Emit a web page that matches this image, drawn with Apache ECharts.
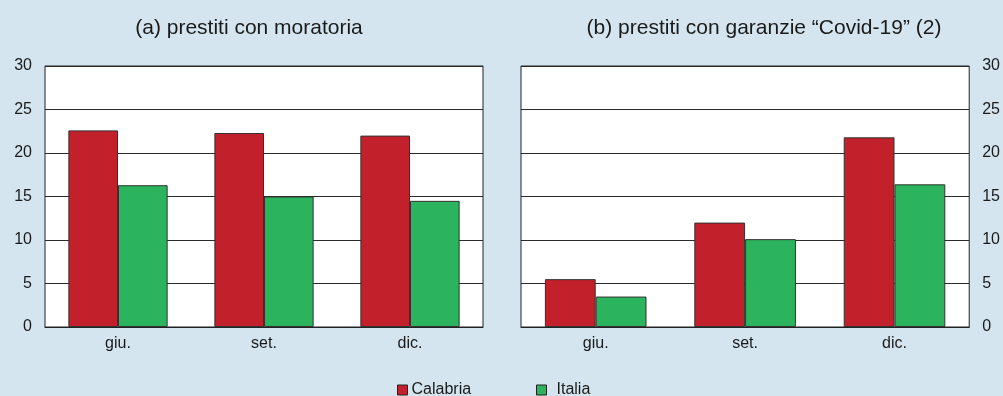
<!DOCTYPE html>
<html>
<head>
<meta charset="utf-8">
<script src="https://cdn.jsdelivr.net/npm/echarts@6/dist/echarts.min.js"></script>
<style>
  html, body { margin: 0; padding: 0; background: #d4e5ef; }
  #chart { width: 1003px; height: 396px; }
</style>
</head>
<body>
<div id="chart"></div>
<script>
// Quarters shown on both panels
const categories = ['giu.', 'set.', 'dic.'];
// Panel (a): loans under moratorium (%)
const moratoriaCalabria = [22.6, 22.3, 22.0];
const moratoriaItalia = [16.3, 15.0, 14.5];
// Panel (b): loans with "Covid-19" guarantees (%)
const garanzieCalabria = [5.5, 12.0, 21.8];
const garanzieItalia = [3.5, 10.1, 16.4];
const yTicks = { min: 0, max: 30, interval: 5 };

const RED = '#c2202a';
const GREEN = '#2bb45d';
const TEXT = '#1a1a1a';
const FONT = 'Liberation Sans, Arial, sans-serif';

function yAxis(gridIndex, position) {
  return {
    type: 'value', gridIndex, position,
    min: yTicks.min, max: yTicks.max, interval: yTicks.interval,
    axisLine: { show: false }, axisTick: { show: false },
    axisLabel: { color: TEXT, fontSize: 16, fontFamily: FONT, margin: 13 },
    splitLine: { show: true, lineStyle: { color: '#2a2a2a', width: 1 } }
  };
}
function xAxis(gridIndex) {
  return {
    type: 'category', gridIndex, data: categories,
    axisLine: { show: true, lineStyle: { color: '#222', width: 1 } },
    axisTick: { show: false },
    axisLabel: { color: TEXT, fontSize: 16, fontFamily: FONT, margin: 9 }
  };
}
function bar(name, data, color, idx) {
  return {
    name, type: 'bar', data, xAxisIndex: idx, yAxisIndex: idx,
    barGap: '0%', barCategoryGap: '32%',
    itemStyle: { color, borderColor: '#333', borderWidth: 1 },
    emphasis: { disabled: true }
  };
}
function legend(name, left, textGap) {
  return {
    top: 377, left, itemWidth: 10, itemHeight: 10, icon: 'rect',
    itemStyle: { borderColor: '#222', borderWidth: 1 },
    textStyle: { color: TEXT, fontSize: 16, fontFamily: FONT, padding: [0, 0, 0, textGap] },
    data: [name]
  };
}

const chart = echarts.init(document.getElementById('chart'), null, { renderer: 'canvas' });
chart.setOption({
  backgroundColor: '#d4e5ef',
  animation: false,
  title: [
    { text: '(a) prestiti con moratoria', left: 244, top: 13, textAlign: 'center',
      textStyle: { fontSize: 21, fontWeight: 'normal', color: TEXT, fontFamily: FONT } },
    { text: '(b) prestiti con garanzie \u201cCovid-19\u201d (2)', left: 759, top: 13, textAlign: 'center',
      textStyle: { fontSize: 21, fontWeight: 'normal', color: TEXT, fontFamily: FONT } }
  ],
  legend: [legend('Calabria', 392, -1), legend('Italia', 531, 5)],
  grid: [
    { left: 45, right: 1003 - 483, top: 66, bottom: 396 - 327, show: true,
      backgroundColor: '#ffffff', borderColor: '#222', borderWidth: 1 },
    { left: 521, right: 1003 - 971, top: 66, bottom: 396 - 327, show: true,
      backgroundColor: '#ffffff', borderColor: '#222', borderWidth: 1 }
  ],
  xAxis: [xAxis(0), xAxis(1)],
  yAxis: [yAxis(0, 'left'), yAxis(1, 'right')],
  series: [
    bar('Calabria', moratoriaCalabria, RED, 0),
    bar('Italia', moratoriaItalia, GREEN, 0),
    bar('Calabria', garanzieCalabria, RED, 1),
    bar('Italia', garanzieItalia, GREEN, 1)
  ]
});
</script>
</body>
</html>
